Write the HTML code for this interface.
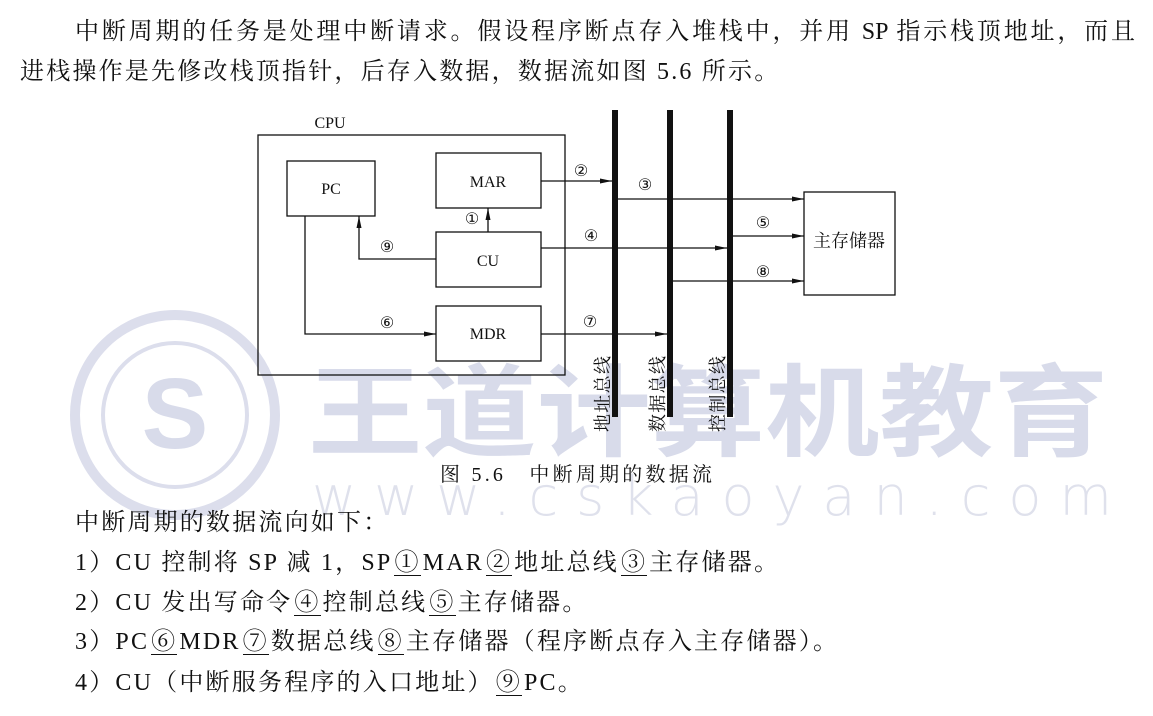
<!DOCTYPE html>
<html><head><meta charset="utf-8">
<style>
body{margin:0;width:1153px;height:716px;background:#fff;position:relative;overflow:hidden;font-family:"Liberation Serif","Noto Serif CJK SC",serif;color:#111}
.t{position:absolute;font-size:24px;white-space:nowrap;line-height:1;letter-spacing:2.2px}
.u{border-bottom:1.5px solid #111;display:inline-block;line-height:0.95;margin:0 2px}
</style></head><body>
<svg style="position:absolute;left:0;top:0" width="1153" height="716">
<circle cx="175" cy="415" r="100" fill="none" stroke="#dcdeec" stroke-width="10"/>
<circle cx="175" cy="415" r="72" fill="none" stroke="#dcdeec" stroke-width="4"/>
<text x="175" y="448" font-size="100" font-family="Liberation Sans,sans-serif" font-weight="bold" fill="#d8dbea" text-anchor="middle">S</text>
<text x="308" y="448" font-size="100" font-family="Noto Sans CJK SC,sans-serif" font-weight="bold" fill="#d8dbea" textLength="800" lengthAdjust="spacingAndGlyphs">王道计算机教育</text>
<text x="312" y="515" font-size="54" font-family="DejaVu Sans,sans-serif" font-weight="200" fill="#dfe1ec" textLength="800" lengthAdjust="spacing">www.cskaoyan.com</text>
</svg>

<div class="t" style="left:75px;top:20px;width:1060px;text-align:justify;text-align-last:justify;letter-spacing:0">中断周期的任务是处理中断请求。假设程序断点存入堆栈中，并用 SP 指示栈顶地址，而且</div>
<div class="t" style="left:20px;top:60px">进栈操作是先修改栈顶指针，后存入数据，数据流如图 5.6 所示。</div>

<svg style="position:absolute;left:0;top:0" width="1153" height="716" font-family="Liberation Serif,serif">
<defs><marker id="a" markerWidth="12" markerHeight="6" refX="12" refY="3" orient="auto" markerUnits="userSpaceOnUse"><path d="M0,0.5L12,3L0,5.5z" fill="#111"/></marker></defs>
<g fill="none" stroke="#111" stroke-width="1.3">
<rect x="258" y="135" width="307" height="240"/>
<rect x="287" y="161" width="88" height="55"/>
<rect x="436" y="153" width="105" height="55"/>
<rect x="436" y="232" width="105" height="55"/>
<rect x="436" y="306" width="105" height="55"/>
<rect x="804" y="192" width="91" height="103"/>
<path d="M541 181H612" marker-end="url(#a)"/>
<path d="M617 199H804" marker-end="url(#a)"/>
<path d="M541 248H727" marker-end="url(#a)"/>
<path d="M733 236H804" marker-end="url(#a)"/>
<path d="M673 281H804" marker-end="url(#a)"/>
<path d="M541 334H667" marker-end="url(#a)"/>
<path d="M488 232V208" marker-end="url(#a)"/>
<path d="M436 259H359V216" marker-end="url(#a)"/>
<path d="M305 216V334H436" marker-end="url(#a)"/>
</g>
<g fill="#111">
<rect x="612" y="110" width="6" height="307"/>
<rect x="667" y="110" width="6" height="307"/>
<rect x="727" y="110" width="6" height="307"/>
</g>
<g font-size="16" fill="#111" text-anchor="middle">
<text x="330" y="128">CPU</text>
<text x="331" y="194">PC</text>
<text x="488" y="187">MAR</text>
<text x="488" y="266">CU</text>
<text x="488" y="339">MDR</text>
<text x="581" y="176">②</text>
<text x="645" y="190">③</text>
<text x="591" y="241">④</text>
<text x="763" y="228">⑤</text>
<text x="763" y="277">⑧</text>
<text x="472" y="224">①</text>
<text x="387" y="252">⑨</text>
<text x="387" y="328">⑥</text>
<text x="590" y="327">⑦</text>
<text x="849" y="247" font-family="Noto Serif CJK SC,serif" font-size="18">主存储器</text>
</g>
<g font-size="18" fill="#111" font-family="Noto Serif CJK SC,serif">
<text transform="translate(609,432) rotate(-90)" textLength="76">地址总线</text>
<text transform="translate(664,432) rotate(-90)" textLength="76">数据总线</text>
<text transform="translate(724,432) rotate(-90)" textLength="76">控制总线</text>
</g>
<text x="440" y="481" font-size="20" font-family="Liberation Serif,Noto Serif CJK SC,serif" fill="#111" textLength="272">图 5.6　中断周期的数据流</text>
</svg>

<div class="t" style="left:75px;top:511px">中断周期的数据流向如下：</div>
<div class="t" style="left:75px;top:551px">1）CU 控制将 SP 减 1，SP<span class="u">①</span>MAR<span class="u">②</span>地址总线<span class="u">③</span>主存储器。</div>
<div class="t" style="left:75px;top:591px">2）CU 发出写命令<span class="u">④</span>控制总线<span class="u">⑤</span>主存储器。</div>
<div class="t" style="left:75px;top:630px">3）PC<span class="u">⑥</span>MDR<span class="u">⑦</span>数据总线<span class="u">⑧</span>主存储器（程序断点存入主存储器）。</div>
<div class="t" style="left:75px;top:671px">4）CU（中断服务程序的入口地址）<span class="u">⑨</span>PC。</div>
</body></html>
